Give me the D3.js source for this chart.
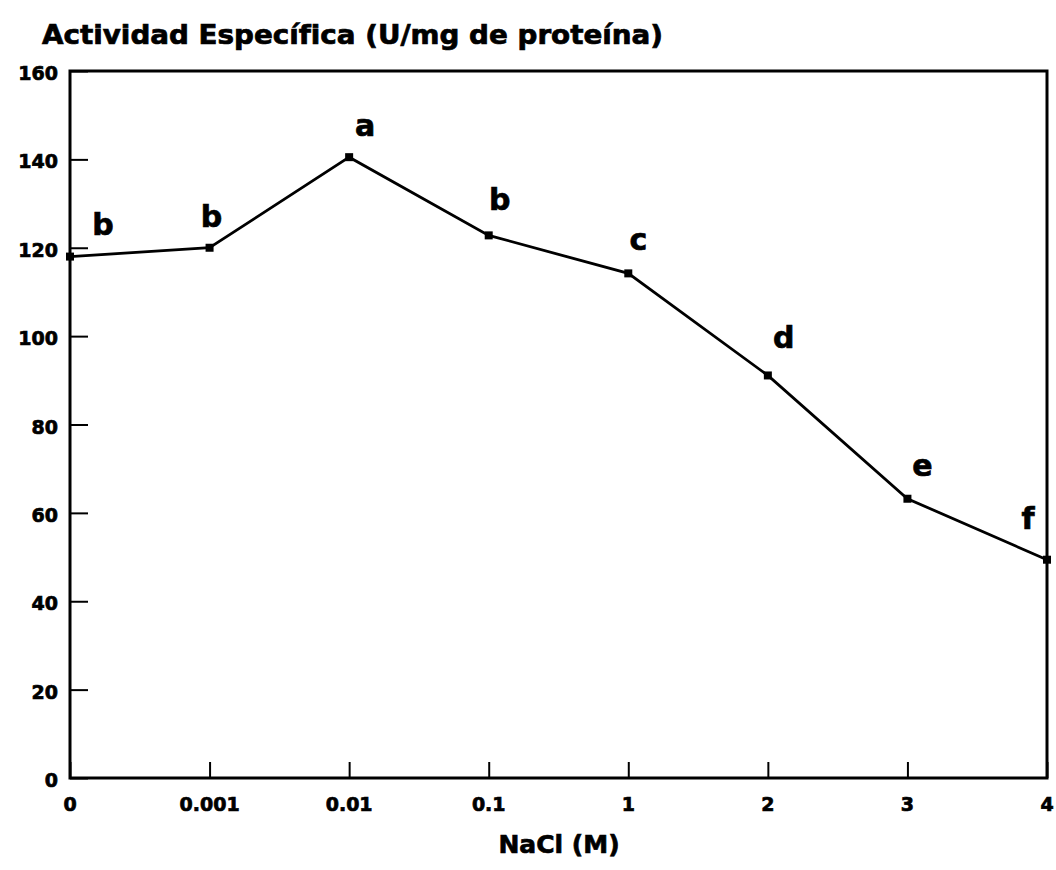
<!DOCTYPE html>
<html lang="es">
<head>
    <meta charset="UTF-8">
    <title>Actividad Específica vs NaCl</title>
    <style>
        body { margin: 0; background: #fff; }
        /* the scanned figure uses a very heavy sans, so thicken the glyphs a little */
        svg text { font-family: "DejaVu Sans", sans-serif; font-weight: bold; fill: #000; stroke: #000; stroke-width: 0.7px; }
    </style>
</head>
<body>
<div id="chart"></div>

<script src="https://d3js.org/d3.v7.min.js"></script>
<script>
    // Data
    var nacl = ["0", "0.001", "0.01", "0.1", "1", "2", "3", "4"];
    var actividad = [118, 120, 140.5, 122.8, 114.2, 91.1, 63.2, 49.4];
    var letras = ["b", "b", "a", "b", "c", "d", "e", "f"];
    var yTicks = [0, 20, 40, 60, 80, 100, 120, 140, 160];

    // label placement relative to each point (pixels)
    var labelOffset = [[33, -22], [2, -21], [16, -21], [11, -25], [10, -23], [16, -27], [15, -23], [-19, -31]];

    var width = 1056, height = 870;
    var margin = { top: 71, right: 9, bottom: 92, left: 70 };

    var svg = d3.select("#chart").append("svg")
        .attr("width", width)
        .attr("height", height);

    var x = d3.scalePoint()
        .domain(nacl)
        .range([margin.left, width - margin.right]);

    var y = d3.scaleLinear()
        .domain([0, 160])
        .range([height - margin.bottom, margin.top]);

    // y ticks (inside, pointing right)
    var yAxis = svg.append("g")
        .attr("transform", "translate(" + margin.left + ",0)")
        .call(d3.axisRight(y).tickValues(yTicks).tickSize(18).tickFormat(""));
    yAxis.select(".domain").remove();
    yAxis.selectAll("line").attr("stroke", "#000").attr("stroke-width", 2);

    svg.append("g").selectAll("text")
        .data(yTicks)
        .enter().append("text")
        .attr("x", margin.left - 12)
        .attr("y", d => y(d) + 9)
        .attr("text-anchor", "end")
        .style("font-size", "19px")
        .text(d => d);

    // x ticks (inside, pointing up)
    var xAxis = svg.append("g")
        .attr("transform", "translate(0," + (height - margin.bottom) + ")")
        .call(d3.axisTop(x).tickSize(16).tickFormat(""));
    xAxis.select(".domain").remove();
    xAxis.selectAll("line").attr("stroke", "#000").attr("stroke-width", 2);

    svg.append("g").selectAll("text")
        .data(nacl)
        .enter().append("text")
        .attr("x", d => x(d))
        .attr("y", height - margin.bottom + 33)
        .attr("text-anchor", "middle")
        .style("font-size", "19px")
        .text(d => d);

    // frame
    svg.append("rect")
        .attr("x", margin.left)
        .attr("y", margin.top)
        .attr("width", width - margin.left - margin.right)
        .attr("height", height - margin.top - margin.bottom)
        .attr("fill", "none")
        .attr("stroke", "#000")
        .attr("stroke-width", 3);

    // data line
    var line = d3.line()
        .x((d, i) => x(nacl[i]))
        .y(d => y(d));

    svg.append("path")
        .datum(actividad)
        .attr("d", line)
        .attr("fill", "none")
        .attr("stroke", "#000")
        .attr("stroke-width", 2.8);

    svg.append("g").selectAll("rect")
        .data(actividad)
        .enter().append("rect")
        .attr("x", (d, i) => x(nacl[i]) - 4)
        .attr("y", d => y(d) - 4)
        .attr("width", 8)
        .attr("height", 8)
        .attr("fill", "#000");

    // significance letters
    svg.append("g").selectAll("text")
        .data(actividad)
        .enter().append("text")
        .attr("x", (d, i) => x(nacl[i]) + labelOffset[i][0])
        .attr("y", (d, i) => y(d) + labelOffset[i][1])
        .attr("text-anchor", "middle")
        .style("font-size", "30px")
        .text((d, i) => letras[i]);

    // titles
    svg.append("text")
        .attr("x", 42)
        .attr("y", 44)
        .attr("textLength", 621)
        .attr("lengthAdjust", "spacingAndGlyphs")
        .style("font-size", "26px")
        .text("Actividad Específica (U/mg de proteína)");

    svg.append("text")
        .attr("x", 559)
        .attr("y", 853)
        .attr("text-anchor", "middle")
        .style("font-size", "25px")
        .text("NaCl (M)");
</script>
</body>
</html>
